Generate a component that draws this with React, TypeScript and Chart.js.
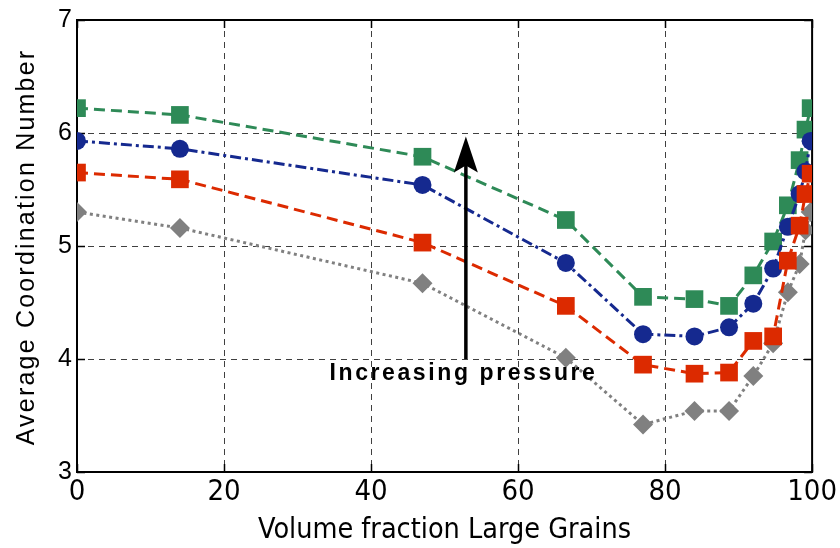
import React, { useEffect, useRef } from "react";
import { Chart, registerables } from "chart.js";

Chart.register(...registerables);

// ---- data ----
const xValues = [0, 14, 47, 66.5, 77, 84, 88.7, 92, 94.7, 96.7, 98.3, 99.1, 99.8];
const greenValues = [6.22, 6.16, 5.79, 5.23, 4.55, 4.53, 4.47, 4.74, 5.04, 5.36, 5.76, 6.03, 6.22];
const blueValues = [5.93, 5.86, 5.54, 4.85, 4.22, 4.2, 4.28, 4.49, 4.8, 5.17, 5.46, 5.66, 5.93];
const redValues = [5.65, 5.59, 5.03, 4.47, 3.95, 3.87, 3.88, 4.16, 4.2, 4.87, 5.18, 5.46, 5.64];
const grayValues = [5.3, 5.16, 4.67, 4.01, 3.42, 3.54, 3.54, 3.85, 4.14, 4.59, 4.84, 5.14, 5.3];
const xTicks = [0, 20, 40, 60, 80, 100];
const yTicks = [3, 4, 5, 6, 7];
const xTitle = "Volume fraction Large Grains";
const yTitle = "Average Coordination Number";
const annotationText = "Increasing pressure";
const arrowXValue = 52.9;
const arrowFromValue = 4.0;
const arrowToValue = 5.97;
const textXValue = 52.4;
const textYValue = 3.87;

const toPoints = (ys: number[]) => ys.map((y, i) => ({ x: xValues[i], y }));

const GREEN = "#2e8a57";
const BLUE = "#15298f";
const RED = "#dc2a00";
const GRAY = "#808080";

const framePlugin = {
  id: "frame",
  beforeDatasetsDraw(chart: any) {
    const { ctx, chartArea: a, scales } = chart;
    ctx.save();
    ctx.strokeStyle = "#000";
    ctx.lineWidth = 1.5;
    ctx.setLineDash([]);
    const tl = 8;
    ctx.beginPath();
    xTicks.forEach((t) => {
      const px = Math.round(scales.x.getPixelForValue(t)) + 0.5;
      ctx.moveTo(px, a.bottom);
      ctx.lineTo(px, a.bottom - tl);
      ctx.moveTo(px, a.top);
      ctx.lineTo(px, a.top + tl);
    });
    yTicks.forEach((t) => {
      const py = Math.round(scales.y.getPixelForValue(t)) + 0.5;
      ctx.moveTo(a.left, py);
      ctx.lineTo(a.left + tl, py);
      ctx.moveTo(a.right, py);
      ctx.lineTo(a.right - tl, py);
    });
    ctx.stroke();
    ctx.lineWidth = 2;
    ctx.strokeRect(a.left, a.top, a.right - a.left, a.bottom - a.top);

    // y axis title with letter spacing
    ctx.fillStyle = "#000";
    ctx.font = "25px 'Liberation Sans', Arial, sans-serif";
    (ctx as any).letterSpacing = "2.2px";
    ctx.textAlign = "center";
    ctx.textBaseline = "alphabetic";
    ctx.translate(34, (a.top + a.bottom) / 2 + 1);
    ctx.rotate(-Math.PI / 2);
    ctx.fillText(yTitle, 0, 0);
    ctx.restore();
  },
  afterDatasetsDraw(chart: any) {
    const { ctx, scales } = chart;
    const x = scales.x.getPixelForValue(arrowXValue);
    const yFrom = scales.y.getPixelForValue(arrowFromValue);
    const yTip = scales.y.getPixelForValue(arrowToValue);
    ctx.save();
    ctx.strokeStyle = "#000";
    ctx.fillStyle = "#000";
    ctx.lineWidth = 3.5;
    ctx.setLineDash([]);
    ctx.beginPath();
    ctx.moveTo(x, yFrom);
    ctx.lineTo(x, yTip + 25);
    ctx.stroke();
    ctx.beginPath();
    ctx.moveTo(x, yTip);
    ctx.lineTo(x + 12, yTip + 36);
    ctx.lineTo(x, yTip + 29);
    ctx.lineTo(x - 12, yTip + 36);
    ctx.closePath();
    ctx.fill();
    ctx.font = "bold 23px 'Liberation Sans', Arial, sans-serif";
    (ctx as any).letterSpacing = "2.6px";
    ctx.textAlign = "center";
    ctx.textBaseline = "middle";
    ctx.fillText(
      annotationText,
      scales.x.getPixelForValue(textXValue) + 1.3,
      scales.y.getPixelForValue(textYValue)
    );
    ctx.restore();
  },
};

export default function App() {
  const ref = useRef<HTMLCanvasElement | null>(null);

  useEffect(() => {
    document.body.style.margin = "0";
    const canvas = ref.current;
    if (!canvas) return;
    const line = (label: string, data: number[], color: string, style: string, radius: number, dash: number[]) => ({
      label,
      data: toPoints(data),
      borderColor: color,
      backgroundColor: color,
      borderWidth: 3,
      borderDash: dash,
      pointStyle: style,
      pointRadius: radius,
      pointHoverRadius: radius,
      pointBackgroundColor: color,
      pointBorderColor: color,
      pointBorderWidth: 0,
      tension: 0,
      fill: false,
    });
    const chart = new Chart(canvas, {
      type: "line",
      data: {
        datasets: [
          line("p4", redValues, RED, "rect", 12.5, [11, 6]),
          line("p3", blueValues, BLUE, "circle", 9, [11, 4, 3, 4]),
          line("p1", grayValues, GRAY, "rectRot", 10, [3, 3.5]),
          line("p2", greenValues, GREEN, "rect", 12.5, [11, 6]),
        ] as any,
      },
      options: {
        responsive: false,
        animation: false,
        devicePixelRatio: 1,
        layout: { padding: { top: 19, right: 25, left: 0, bottom: 0 } },
        plugins: { legend: { display: false }, tooltip: { enabled: false } },
        scales: {
          x: {
            type: "linear",
            min: 0,
            max: 100,
            afterBuildTicks: (s: any) => {
              s.ticks = xTicks.map((v) => ({ value: v }));
            },
            afterFit: (s: any) => {
              s.height = 76;
            },
            grid: { color: "rgba(0,0,0,0.75)", lineWidth: 1, drawTicks: false },
            border: { display: false, dash: [6, 5] },
            ticks: {
              color: "#000",
              padding: 3,
              maxRotation: 0,
              font: { family: "'Liberation Sans Narrow', 'DejaVu Sans Condensed', Arial, sans-serif", size: 29 },
            },
            title: {
              display: true,
              text: xTitle,
              color: "#000",
              padding: { top: 0, bottom: 0 },
              font: { family: "'Liberation Sans Narrow', 'DejaVu Sans Condensed', Arial, sans-serif", size: 28.5 },
            },
          },
          y: {
            type: "linear",
            min: 3,
            max: 7,
            afterBuildTicks: (s: any) => {
              s.ticks = yTicks.map((v) => ({ value: v }));
            },
            afterFit: (s: any) => {
              s.width = 77;
            },
            grid: { color: "rgba(0,0,0,0.75)", lineWidth: 1, drawTicks: false },
            border: { display: false, dash: [6, 5] },
            ticks: {
              color: "#000",
              padding: 5,
              font: { family: "'Liberation Sans', Arial, sans-serif", size: 25 },
            },
            title: { display: false },
          },
        },
      } as any,
      plugins: [framePlugin],
    });
    return () => chart.destroy();
  }, []);

  return <canvas ref={ref} width={840} height={548} style={{ display: "block" }} />;
}
